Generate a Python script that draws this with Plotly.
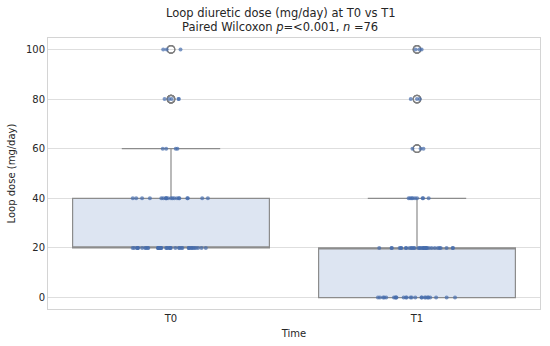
import plotly.graph_objects as go

# Data: dose levels and counts of patients at each level (n=76 per time point)
dose_levels = [0, 20, 40, 60, 80, 100]
t0_counts = [0, 44, 20, 4, 5, 3]
t1_counts = [25, 33, 9, 3, 3, 3]
categories = ["T0", "T1"]
title_line1 = "Loop diuretic dose (mg/day) at T0 vs T1"
title_line2 = "Paired Wilcoxon <i>p</i>=<0.001, <i>n</i> =76"


def expand(levels, counts):
    vals = []
    for v, c in zip(levels, counts):
        vals += [v] * c
    return vals


t0_vals = expand(dose_levels, t0_counts)
t1_vals = expand(dose_levels, t1_counts)

xs = [categories[0]] * len(t0_vals) + [categories[1]] * len(t1_vals)
ys = t0_vals + t1_vals

fig = go.Figure()

# Box with outliers (seaborn style)
fig.add_trace(go.Box(
    x=xs, y=ys,
    boxpoints="outliers",
    fillcolor="rgba(221,229,242,1)",
    line=dict(color="#8c8c8c", width=1.2),
    marker=dict(symbol="circle-open", color="#7f7f7f", size=7.5,
                line=dict(width=1.2, color="#7f7f7f")),
    whiskerwidth=0.5,
    width=0.8,
    quartilemethod="linear",
    showlegend=False,
    hoverinfo="skip",
))

# Strip of all points (jittered)
fig.add_trace(go.Box(
    x=xs, y=ys,
    boxpoints="all",
    jitter=0.4,
    pointpos=0,
    width=0.8,
    fillcolor="rgba(0,0,0,0)",
    line=dict(color="rgba(0,0,0,0)", width=0),
    marker=dict(symbol="circle", color="rgba(70,108,172,0.7)", size=4),
    showlegend=False,
))

fig.update_layout(
    width=550, height=346,
    margin=dict(l=48, r=10, t=38, b=37, autoexpand=False),
    paper_bgcolor="white",
    plot_bgcolor="white",
    font=dict(family="DejaVu Sans", color="#262626", size=10),
    boxmode="overlay",
    showlegend=False,
    annotations=[
        dict(text=title_line1, xref="paper", yref="paper", x=0.472, y=1,
             xanchor="center", yanchor="bottom", yshift=16, showarrow=False,
             font=dict(size=11.5, color="#262626")),
        dict(text=title_line2, xref="paper", yref="paper", x=0.472, y=1,
             xanchor="center", yanchor="bottom", yshift=2, showarrow=False,
             font=dict(size=11.5, color="#262626")),
    ],
)

fig.update_xaxes(
    type="category",
    range=[-0.5, 1.5],
    showgrid=False,
    showline=True, linecolor="#d4d4d4", linewidth=1, mirror=True,
    ticks="", zeroline=False, automargin=False,
    title=dict(text="Time", font=dict(size=10), standoff=6),
    tickfont=dict(size=10),
)
fig.update_yaxes(
    range=[-4.6, 104.6],
    tickvals=[0, 20, 40, 60, 80, 100],
    showgrid=True, gridcolor="#dedede", gridwidth=1,
    showline=True, linecolor="#d4d4d4", linewidth=1, mirror=True,
    ticks="", zeroline=False, automargin=False,
    title=dict(text="Loop dose (mg/day)", font=dict(size=10), standoff=8),
    tickfont=dict(size=10),
)

fig.write_html("out.html",
               config={"displayModeBar": False},
               post_script="document.body.style.margin='0';document.body.style.overflow='hidden';")
